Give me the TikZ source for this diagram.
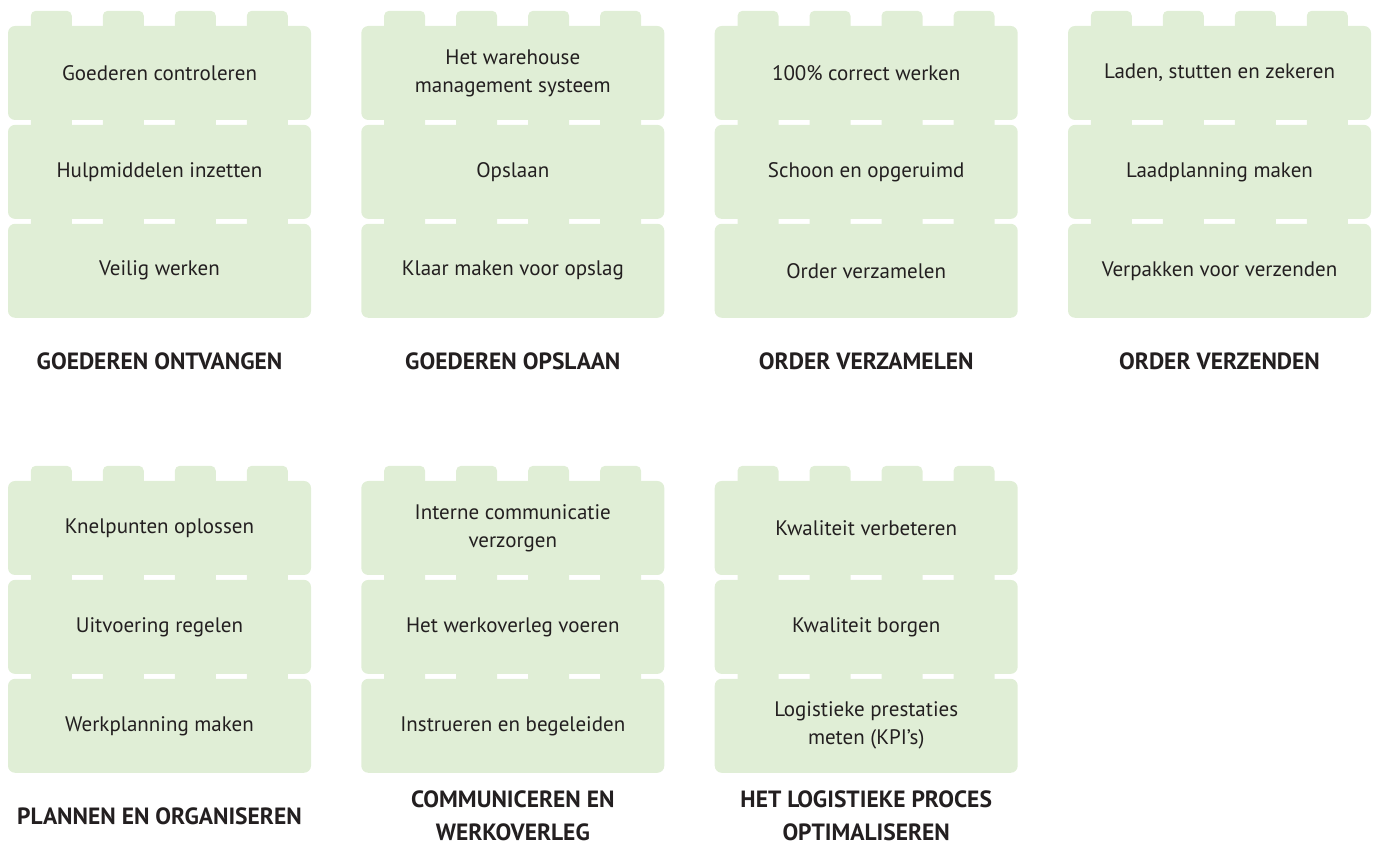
\documentclass[tikz,border=0pt]{standalone}
\usepackage{fontspec}
\setmainfont{PT Sans}
\usetikzlibrary{positioning,calc}

\definecolor{legogroen}{HTML}{E0EED6}
\definecolor{tekst}{HTML}{231F20}

% een stapel van drie legoblokken met titel eronder
\newcommand{\legostapel}[7]{%
  \node[blok] (#1-1) at (#2,#3) {#4};
  \node[blok,below=4.5pt of #1-1] (#1-2) {#5};
  \node[blok,below=4.5pt of #1-2] (#1-3) {#6};
  % noppen bovenop elk blok
  \foreach \n in {1,2,3}
    \foreach \k in {0,...,3}
      \fill[legogroen,rounded corners=5pt] ($(#1-\n.north west)+(23+72*\k,-8)$) -- ++(0,23) -- ++(41,0) -- ++(0,-23) -- cycle;
  \node[titel] (#1-titel) at ($(#1-3.south)+(0,-43)$) {#7};
}

\begin{document}
\begin{tikzpicture}[x=1pt,y=1pt,
    blok/.style={rectangle,fill=legogroen,rounded corners=7pt,minimum width=303pt,minimum height=94pt,
      inner sep=0pt,align=center,text=tekst,font=\fontsize{21}{28}\selectfont},
    titel/.style={align=center,text=tekst,font=\fontsize{23.5}{33}\selectfont\bfseries}]
  \useasboundingbox (0,0) rectangle (1375,840);
  % bovenste rij
  \legostapel{ontvangen}{159.5}{767}{Goederen controleren}{Hulpmiddelen inzetten}{Veilig werken}{GOEDEREN ONTVANGEN}
  \legostapel{opslaan}{512.8}{767}{Het warehouse\\management systeem}{Opslaan}{Klaar maken voor opslag}{GOEDEREN OPSLAAN}
  \legostapel{verzamelen}{866.2}{767}{100\% correct werken}{Schoon en opgeruimd}{Order verzamelen}{ORDER VERZAMELEN}
  \legostapel{verzenden}{1219.5}{767}{Laden, stutten en zekeren}{Laadplanning maken}{Verpakken voor verzenden}{ORDER VERZENDEN}
  % onderste rij
  \legostapel{plannen}{159.5}{312}{Knelpunten oplossen}{Uitvoering regelen}{Werkplanning maken}{PLANNEN EN ORGANISEREN}
  \legostapel{communiceren}{512.8}{312}{Interne communicatie\\verzorgen}{Het werkoverleg voeren}{Instrueren en begeleiden}{COMMUNICEREN EN\\WERKOVERLEG}
  \legostapel{optimaliseren}{866.2}{312}{Kwaliteit verbeteren}{Kwaliteit borgen}{Logistieke prestaties\\meten (KPI's)}{HET LOGISTIEKE PROCES\\OPTIMALISEREN}
\end{tikzpicture}
\end{document}
